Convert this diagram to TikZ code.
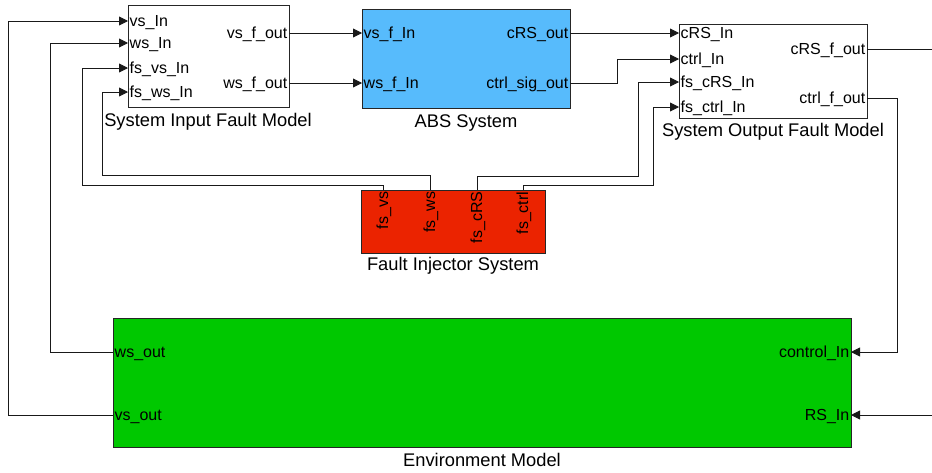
\documentclass[tikz,border=0pt]{standalone}
\usepackage{fontspec}
\setmainfont{Liberation Sans}
\usetikzlibrary{arrows.meta}
\definecolor{absblue}{RGB}{87,187,252}
\definecolor{fired}{RGB}{235,35,0}
\definecolor{envgreen}{RGB}{0,200,0}
\tikzset{
  blockbox/.style={draw=black!85, line width=0.9pt, anchor=north west, inner sep=0pt},
  portl/.style={anchor=base west, yshift=-5.5pt, inner sep=1.5pt, font=\fontsize{16}{18}\selectfont},
  portr/.style={anchor=base east, yshift=-5.5pt, inner sep=1.5pt, font=\fontsize{16}{18}\selectfont},
  portv/.style={anchor=east, rotate=90, inner sep=1.5pt, font=\fontsize{16}{18}\selectfont},
  blabel/.style={anchor=base, inner sep=0pt, font=\fontsize{18.3}{20}\selectfont},
  wire/.style={draw=black!90, line width=0.9pt},
  arr/.style={wire, -{Triangle[length=9pt,width=9pt]}}
}
\begin{document}
\begin{tikzpicture}[x=1pt,y=-1pt]
\useasboundingbox (0,0) rectangle (932,472);
% blocks
\node[blockbox, fill=white, minimum width=161pt, minimum height=102pt] (sif) at (128,5) {};
\node[blockbox, fill=absblue, minimum width=208pt, minimum height=99pt] (abs) at (362,9) {};
\node[blockbox, fill=white, minimum width=188pt, minimum height=94pt] (sof) at (679,24) {};
\node[blockbox, fill=fired, minimum width=184pt, minimum height=63pt] (fi) at (361,190) {};
\node[blockbox, fill=envgreen, minimum width=738pt, minimum height=129pt] (env) at (113,318) {};
% block names
\node[blabel] (sifname) at (208,126) {System Input Fault Model};
\node[blabel] (absname) at (466,127) {ABS System};
\node[blabel] (sofname) at (773,136) {System Output Fault Model};
\node[blabel] (finame) at (453,270) {Fault Injector System};
\node[blabel] (envname) at (482,466) {Environment Model};
% ports: system input fault model
\coordinate (sifvs) at (128,21);
\coordinate (sifws) at (128,43);
\coordinate (siffsvs) at (128,68);
\coordinate (siffsws) at (128,92);
\coordinate (sifvsout) at (289,33);
\coordinate (sifwsout) at (289,83);
\node[portl] (l1) at (sifvs) {vs\_In};
\node[portl] (l2) at (sifws) {ws\_In};
\node[portl] (l3) at (siffsvs) {fs\_vs\_In};
\node[portl] (l4) at (siffsws) {fs\_ws\_In};
\node[portr] (l5) at (sifvsout) {vs\_f\_out};
\node[portr] (l6) at (sifwsout) {ws\_f\_out};
% ports: ABS
\coordinate (absvs) at (362,33);
\coordinate (absws) at (362,83);
\coordinate (abscrs) at (570,33);
\coordinate (absctrl) at (570,83);
\node[portl] (l7) at (absvs) {vs\_f\_In};
\node[portl] (l8) at (absws) {ws\_f\_In};
\node[portr] (l9) at (abscrs) {cRS\_out};
\node[portr] (l10) at (absctrl) {ctrl\_sig\_out};
% ports: system output fault model
\coordinate (sofcrs) at (679,33);
\coordinate (sofctrl) at (679,59);
\coordinate (soffscrs) at (679,82);
\coordinate (soffsctrl) at (679,107);
\coordinate (sofcrsout) at (867,49);
\coordinate (sofctrlout) at (867,98);
\node[portl] (l11) at (sofcrs) {cRS\_In};
\node[portl] (l12) at (sofctrl) {ctrl\_In};
\node[portl] (l13) at (soffscrs) {fs\_cRS\_In};
\node[portl] (l14) at (soffsctrl) {fs\_ctrl\_In};
\node[portr] (l15) at (sofcrsout) {cRS\_f\_out};
\node[portr] (l16) at (sofctrlout) {ctrl\_f\_out};
% ports: fault injector
\coordinate (fivs) at (383,190);
\coordinate (fiws) at (430,190);
\coordinate (ficrs) at (477,190);
\coordinate (fictrl) at (523,190);
\node[portv] (l17) at ([xshift=1pt]fivs) {fs\_vs};
\node[portv] (l18) at ([xshift=1pt]fiws) {fs\_ws};
\node[portv] (l19) at ([xshift=1pt]ficrs) {fs\_cRS};
\node[portv] (l20) at ([xshift=1pt]fictrl) {fs\_ctrl};
% ports: environment
\coordinate (envws) at (113,352);
\coordinate (envvs) at (113,415);
\coordinate (envctrl) at (851,352);
\coordinate (envrs) at (851,415);
\node[portl] (l21) at (envws) {ws\_out};
\node[portl] (l22) at (envvs) {vs\_out};
\node[portr] (l23) at (envctrl) {control\_In};
\node[portr] (l24) at (envrs) {RS\_In};
% free ends
\coordinate (outcrs) at (932,49);
\coordinate (inrs) at (932,415);
% connectors
\draw[arr] (envvs) -- ++(-105,0) |- (sifvs);
\draw[arr] (envws) -- ++(-63,0) |- (sifws);
\draw[arr] (fivs) -- ++(0,-5) -- ++(-301,0) |- (siffsvs);
\draw[arr] (fiws) -- ++(0,-15) -- ++(-328,0) |- (siffsws);
\draw[arr] (sifvsout) -- (absvs);
\draw[arr] (sifwsout) -- (absws);
\draw[arr] (abscrs) -- (sofcrs);
\draw[arr] (absctrl) -- ++(47,0) |- (sofctrl);
\draw[arr] (ficrs) -- ++(0,-14) -- ++(161,0) |- (soffscrs);
\draw[arr] (fictrl) -- ++(0,-5) -- ++(130,0) |- (soffsctrl);
\draw[wire] (sofcrsout) -- (outcrs);
\draw[arr] (sofctrlout) -- ++(30,0) |- (envctrl);
\draw[arr] (inrs) -- (envrs);
\end{tikzpicture}
\end{document}
